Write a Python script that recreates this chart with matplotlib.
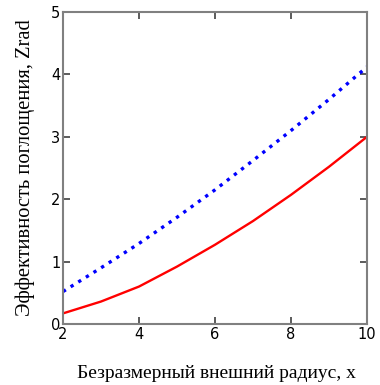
import matplotlib
matplotlib.use('Agg')
import matplotlib.pyplot as plt

# Данные
x_vals = [2, 3, 4, 5, 6, 7, 8, 9, 10]
z_red = [0.17, 0.36, 0.60, 0.92, 1.27, 1.65, 2.07, 2.52, 3.00]
z_blue = [0.52, 0.90, 1.29, 1.71, 2.15, 2.62, 3.10, 3.60, 4.12]

x_ticks = [2, 4, 6, 8, 10]
y_ticks = [0, 1, 2, 3, 4, 5]

frame = '#808080'

fig = plt.figure(figsize=(3.8, 3.85), dpi=100)
ax = fig.add_axes([63 / 380, 61 / 385, 304 / 380, 312 / 385])

ax.plot(x_vals, z_red, color='red', lw=1.7)
ax.plot(x_vals, z_blue, color='blue', lw=2.4,
        dashes=(1, 1.7), dash_capstyle='butt')

ax.set_xlim(2, 10)
ax.set_ylim(0, 5)
ax.set_xticks(x_ticks)
ax.set_yticks(y_ticks)

for s in ax.spines.values():
    s.set_color(frame)
    s.set_linewidth(1.5)

ax.tick_params(direction='in', length=5, width=1.2, color='#404040',
               top=True, right=True, labelsize=10.5, pad=2)

ax.set_xlabel('Безразмерный внешний радиус, x', family='Liberation Serif',
              fontsize=14, va='center')
ax.set_ylabel('Эффективность поглощения, Zrad', family='Liberation Serif',
              fontsize=14.8, va='center')
ax.xaxis.set_label_coords(0.505, -0.16)
ax.yaxis.set_label_coords(-0.125, 0.5)

fig.savefig('out.png', dpi=100)
